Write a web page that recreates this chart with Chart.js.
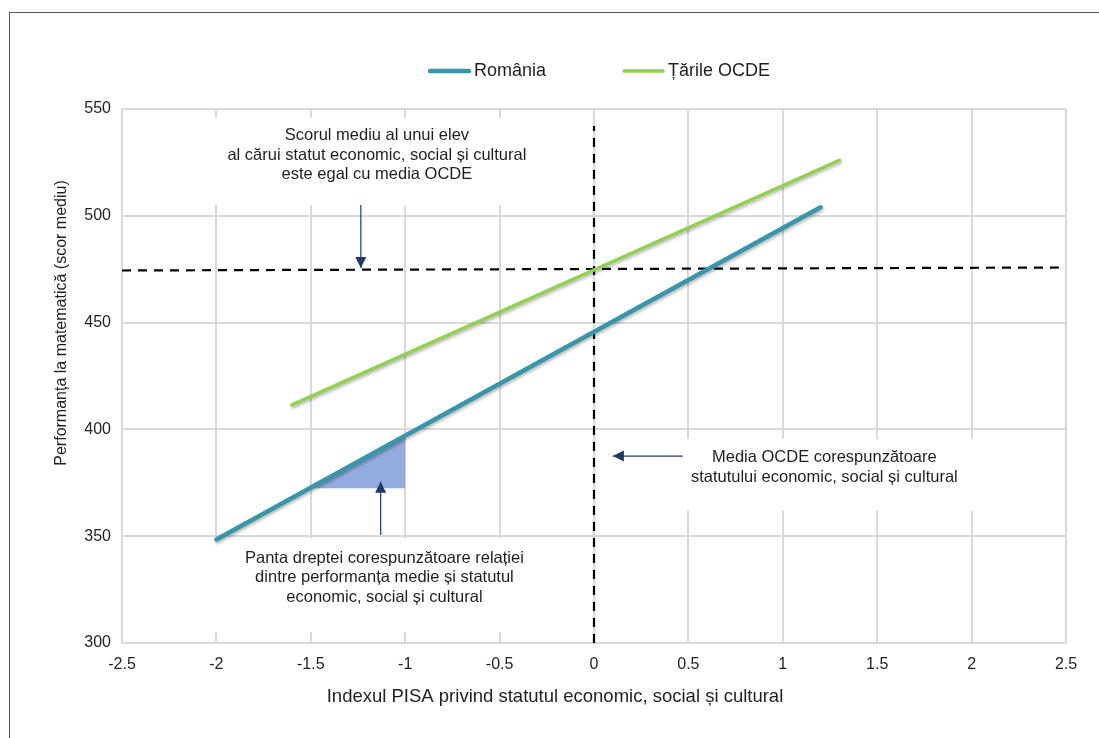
<!DOCTYPE html>
<html>
<head>
<meta charset="utf-8">
<script src="https://cdn.jsdelivr.net/npm/chart.js@4.4.1/dist/chart.umd.min.js"></script>
<style>
  body { margin: 0; background: #fff; overflow: hidden; }
  #frame { position: absolute; left: 9px; top: 12px; width: 1200px; height: 800px; border: 1px solid #595959; }
  #wrap { position: absolute; left: 0; top: 0; width: 1099px; height: 738px; }
</style>
</head>
<body>
<div id="frame"></div>
<div id="wrap"><canvas id="chart"></canvas></div>
<script>
// data
var romaniaX = [-2, 1.2];
var romaniaY = [348.5, 504];
var ocdeX = [-1.6, 1.3];
var ocdeY = [411.5, 526];
var avgScoreX = [-2.5, 2.5];      // horizontal dashed line
var avgScoreY = [474.4, 475.8];
var avgIndexX = [0, 0];           // vertical dashed line
var avgIndexY = [300, 542];
var slopeX = [-1.5, -1, -1, -1.5]; // slope triangle
var slopeY = [372.5, 372.5, 397.5, 372.5];

var xMin = -2.5, xMax = 2.5, xStep = 0.5;
var yMin = 300, yMax = 550, yStep = 50;

var seriesNames = ["România", "Țările OCDE"];
var xTitle = "Indexul PISA privind statutul economic, social și cultural";
var yTitle = "Performanța la matematică (scor mediu)";

var notes = [
  { x: -1.15, y: 537.4, lines: ["Scorul mediu al unui elev", "al cărui statut economic, social și cultural", "este egal cu media OCDE"],
    box: [-2.1, -0.3, 505, 546] },
  { x: 1.22, y: 386.8, lines: ["Media OCDE corespunzătoare", "statutului economic, social și cultural"],
    box: [0.15, 2.2, 362, 395.5] },
  { x: -1.11, y: 339.8, lines: ["Panta dreptei corespunzătoare relației", "dintre performanța medie și statutul", "economic, social și cultural"],
    box: [-2.1, -0.3, 305, 349] }
];
var arrows = [
  { from: [-1.235, 505], to: [-1.235, 475.6] },
  { from: [0.47, 387.5], to: [0.1, 387.5] },
  { from: [-1.13, 350.6], to: [-1.13, 375.5] }
];

function pts(xs, ys) {
  return xs.map(function (x, i) { return { x: x, y: ys[i] }; });
}

var teal = "#3996AA";
var green = "#92D050";
var navy = "#1F3864";
var textColor = "#1f1f1f";
var font = '"Liberation Sans", Arial, sans-serif';

function arrowHead(ctx, x1, y1, x2, y2) {
  var a = Math.atan2(y2 - y1, x2 - x1);
  var len = 11, half = 5.5;
  ctx.beginPath();
  ctx.moveTo(x2, y2);
  ctx.lineTo(x2 - len * Math.cos(a) + half * Math.sin(a), y2 - len * Math.sin(a) - half * Math.cos(a));
  ctx.lineTo(x2 - len * Math.cos(a) - half * Math.sin(a), y2 - len * Math.sin(a) + half * Math.cos(a));
  ctx.closePath();
  ctx.fill();
}

var extras = {
  id: "extras",
  beforeDatasetsDraw: function (chart) {
    var ctx = chart.ctx, xs = chart.scales.x, ys = chart.scales.y;
    ctx.save();
    ctx.fillStyle = "#fff";
    notes.forEach(function (n) {
      var l = xs.getPixelForValue(n.box[0]), r = xs.getPixelForValue(n.box[1]);
      var b = ys.getPixelForValue(n.box[2]), t = ys.getPixelForValue(n.box[3]);
      ctx.fillRect(l, t, r - l, b - t);
    });
    ctx.restore();
  },
  beforeDatasetDraw: function (chart, args) {
    var ctx = chart.ctx;
    ctx.save();
    if (args.index < 2) {
      ctx.shadowColor = "rgba(0,0,0,0.28)";
      ctx.shadowBlur = 3;
      ctx.shadowOffsetX = 1;
      ctx.shadowOffsetY = 2;
    }
  },
  afterDatasetDraw: function (chart) {
    chart.ctx.restore();
  },
  afterDatasetsDraw: function (chart) {
    var ctx = chart.ctx, xs = chart.scales.x, ys = chart.scales.y, area = chart.chartArea;
    ctx.save();
    // arrows
    ctx.strokeStyle = navy;
    ctx.fillStyle = navy;
    ctx.lineWidth = 1.2;
    arrows.forEach(function (a) {
      var x1 = xs.getPixelForValue(a.from[0]), y1 = ys.getPixelForValue(a.from[1]);
      var x2 = xs.getPixelForValue(a.to[0]), y2 = ys.getPixelForValue(a.to[1]);
      ctx.beginPath();
      ctx.moveTo(x1, y1);
      ctx.lineTo(x2, y2);
      ctx.stroke();
      arrowHead(ctx, x1, y1, x2, y2);
    });
    // notes
    ctx.fillStyle = textColor;
    ctx.font = "16.5px " + font;
    ctx.textAlign = "center";
    ctx.textBaseline = "middle";
    notes.forEach(function (n) {
      var cx = xs.getPixelForValue(n.x), cy = ys.getPixelForValue(n.y);
      n.lines.forEach(function (line, i) {
        ctx.fillText(line, cx, cy + i * 19.5);
      });
    });
    // axis titles
    ctx.font = "18.5px " + font;
    ctx.fillText(xTitle, area.left + 433, area.bottom + 54);
    ctx.save();
    ctx.translate(62, area.top + 214);
    ctx.rotate(-Math.PI / 2);
    ctx.font = "16px " + font;
    ctx.fillText(yTitle, 0, 0);
    ctx.restore();
    // legend
    var items = [
      { name: seriesNames[0], color: teal, width: 4.5, x: 428 },
      { name: seriesNames[1], color: green, width: 3.5, x: 622 }
    ];
    ctx.font = "18px " + font;
    ctx.textAlign = "left";
    ctx.lineCap = "round";
    items.forEach(function (it) {
      ctx.strokeStyle = it.color;
      ctx.lineWidth = it.width;
      ctx.beginPath();
      ctx.moveTo(it.x + 2, 71);
      ctx.lineTo(it.x + 41, 71);
      ctx.stroke();
      ctx.fillText(it.name, it.x + 46, 71);
    });
    ctx.restore();
  }
};

function fmt(v) {
  return String(Math.round(v * 10) / 10);
}

new Chart(document.getElementById("chart"), {
  type: "scatter",
  data: {
    datasets: [
      {
        label: seriesNames[0],
        data: pts(romaniaX, romaniaY),
        showLine: true,
        borderColor: teal,
        borderWidth: 4.5,
        borderCapStyle: "round",
        pointRadius: 0,
        order: 1
      }, {
        label: seriesNames[1],
        data: pts(ocdeX, ocdeY),
        showLine: true,
        borderColor: green,
        borderWidth: 3.5,
        borderCapStyle: "round",
        pointRadius: 0,
        order: 2
      }, {
        label: "avgScore",
        data: pts(avgScoreX, avgScoreY),
        showLine: true,
        borderColor: "#000",
        borderWidth: 2.2,
        borderDash: [9, 7],
        pointRadius: 0,
        order: 3
      }, {
        label: "avgIndex",
        data: pts(avgIndexX, avgIndexY),
        showLine: true,
        borderColor: "#000",
        borderWidth: 2.2,
        borderDash: [9, 7],
        pointRadius: 0,
        order: 4
      }, {
        label: "slope",
        data: pts(slopeX, slopeY),
        showLine: true,
        fill: "shape",
        backgroundColor: "rgba(128,158,218,0.85)",
        borderWidth: 0,
        borderColor: "rgba(0,0,0,0)",
        pointRadius: 0,
        order: 5
      }
    ]
  },
  options: {
    responsive: true,
    maintainAspectRatio: false,
    animation: false,
    layout: { padding: { top: 109, right: 33, left: 0, bottom: 0 } },
    plugins: {
      legend: { display: false },
      tooltip: { enabled: false }
    },
    scales: {
      x: {
        type: "linear",
        min: xMin,
        max: xMax,
        ticks: { stepSize: xStep, padding: 12, color: textColor, font: { family: font, size: 16 }, callback: fmt },
        grid: { color: "#d9d9d9", lineWidth: 2, drawTicks: false },
        border: { color: "#d9d9d9", width: 2 },
        afterFit: function (s) { s.height = 95; }
      },
      y: {
        min: yMin,
        max: yMax,
        ticks: { stepSize: yStep, padding: 11, color: textColor, font: { family: font, size: 16 }, callback: fmt },
        grid: { color: "#d9d9d9", lineWidth: 2, drawTicks: false },
        border: { color: "#d9d9d9", width: 2 },
        afterFit: function (s) { s.width = 122; }
      }
    }
  },
  plugins: [extras]
});
</script>
</body>
</html>
